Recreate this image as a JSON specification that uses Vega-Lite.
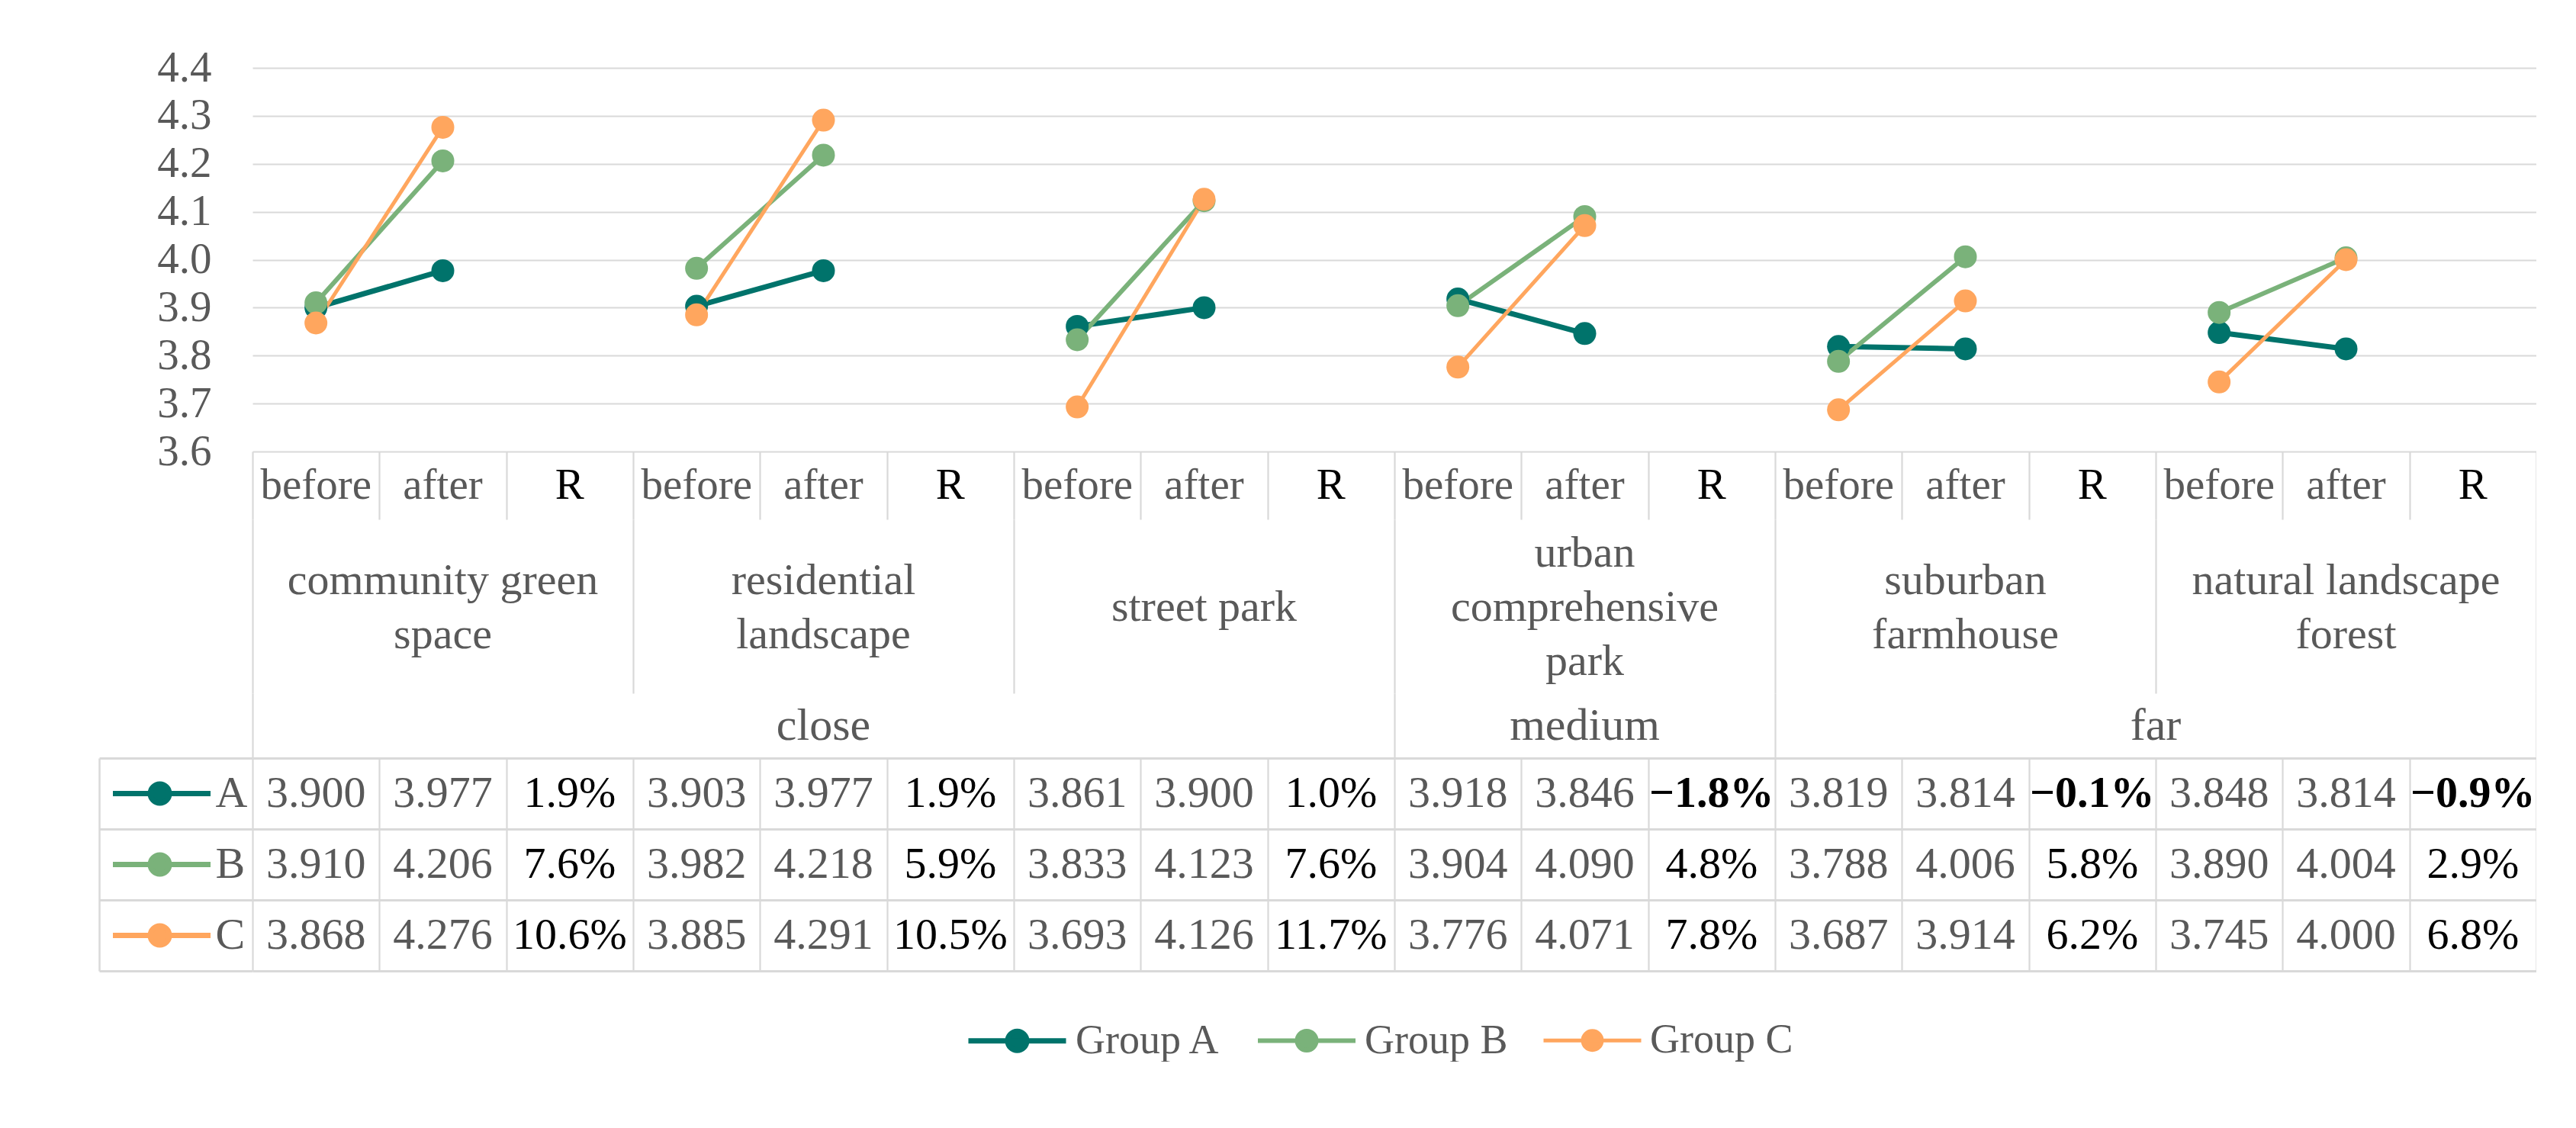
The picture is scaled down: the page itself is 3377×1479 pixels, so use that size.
{
  "$schema": "https://vega.github.io/schema/vega-lite/v6.json",
  "padding": {"left": 130, "top": 60, "right": 0, "bottom": 0},
  "background": "white",
  "config": {"view": {"stroke": null}, "font": "Liberation Serif"},
  "data": {"values": [
    {"g":"A","dist":"close","cat":"community green\nspace","stage":"before","v":3.900},
    {"g":"A","dist":"close","cat":"community green\nspace","stage":"after","v":3.977},
    {"g":"A","dist":"close","cat":"community green\nspace","stage":"R","v":0.019},
    {"g":"A","dist":"close","cat":"residential\nlandscape","stage":"before","v":3.903},
    {"g":"A","dist":"close","cat":"residential\nlandscape","stage":"after","v":3.977},
    {"g":"A","dist":"close","cat":"residential\nlandscape","stage":"R","v":0.019},
    {"g":"A","dist":"close","cat":"street park","stage":"before","v":3.861},
    {"g":"A","dist":"close","cat":"street park","stage":"after","v":3.900},
    {"g":"A","dist":"close","cat":"street park","stage":"R","v":0.010},
    {"g":"A","dist":"medium","cat":"urban\ncomprehensive\npark","stage":"before","v":3.918},
    {"g":"A","dist":"medium","cat":"urban\ncomprehensive\npark","stage":"after","v":3.846},
    {"g":"A","dist":"medium","cat":"urban\ncomprehensive\npark","stage":"R","v":-0.018},
    {"g":"A","dist":"far","cat":"suburban\nfarmhouse","stage":"before","v":3.819},
    {"g":"A","dist":"far","cat":"suburban\nfarmhouse","stage":"after","v":3.814},
    {"g":"A","dist":"far","cat":"suburban\nfarmhouse","stage":"R","v":-0.001},
    {"g":"A","dist":"far","cat":"natural landscape\nforest","stage":"before","v":3.848},
    {"g":"A","dist":"far","cat":"natural landscape\nforest","stage":"after","v":3.814},
    {"g":"A","dist":"far","cat":"natural landscape\nforest","stage":"R","v":-0.009},
    {"g":"B","dist":"close","cat":"community green\nspace","stage":"before","v":3.910},
    {"g":"B","dist":"close","cat":"community green\nspace","stage":"after","v":4.206},
    {"g":"B","dist":"close","cat":"community green\nspace","stage":"R","v":0.076},
    {"g":"B","dist":"close","cat":"residential\nlandscape","stage":"before","v":3.982},
    {"g":"B","dist":"close","cat":"residential\nlandscape","stage":"after","v":4.218},
    {"g":"B","dist":"close","cat":"residential\nlandscape","stage":"R","v":0.059},
    {"g":"B","dist":"close","cat":"street park","stage":"before","v":3.833},
    {"g":"B","dist":"close","cat":"street park","stage":"after","v":4.123},
    {"g":"B","dist":"close","cat":"street park","stage":"R","v":0.076},
    {"g":"B","dist":"medium","cat":"urban\ncomprehensive\npark","stage":"before","v":3.904},
    {"g":"B","dist":"medium","cat":"urban\ncomprehensive\npark","stage":"after","v":4.090},
    {"g":"B","dist":"medium","cat":"urban\ncomprehensive\npark","stage":"R","v":0.048},
    {"g":"B","dist":"far","cat":"suburban\nfarmhouse","stage":"before","v":3.788},
    {"g":"B","dist":"far","cat":"suburban\nfarmhouse","stage":"after","v":4.006},
    {"g":"B","dist":"far","cat":"suburban\nfarmhouse","stage":"R","v":0.058},
    {"g":"B","dist":"far","cat":"natural landscape\nforest","stage":"before","v":3.890},
    {"g":"B","dist":"far","cat":"natural landscape\nforest","stage":"after","v":4.004},
    {"g":"B","dist":"far","cat":"natural landscape\nforest","stage":"R","v":0.029},
    {"g":"C","dist":"close","cat":"community green\nspace","stage":"before","v":3.868},
    {"g":"C","dist":"close","cat":"community green\nspace","stage":"after","v":4.276},
    {"g":"C","dist":"close","cat":"community green\nspace","stage":"R","v":0.106},
    {"g":"C","dist":"close","cat":"residential\nlandscape","stage":"before","v":3.885},
    {"g":"C","dist":"close","cat":"residential\nlandscape","stage":"after","v":4.291},
    {"g":"C","dist":"close","cat":"residential\nlandscape","stage":"R","v":0.105},
    {"g":"C","dist":"close","cat":"street park","stage":"before","v":3.693},
    {"g":"C","dist":"close","cat":"street park","stage":"after","v":4.126},
    {"g":"C","dist":"close","cat":"street park","stage":"R","v":0.117},
    {"g":"C","dist":"medium","cat":"urban\ncomprehensive\npark","stage":"before","v":3.776},
    {"g":"C","dist":"medium","cat":"urban\ncomprehensive\npark","stage":"after","v":4.071},
    {"g":"C","dist":"medium","cat":"urban\ncomprehensive\npark","stage":"R","v":0.078},
    {"g":"C","dist":"far","cat":"suburban\nfarmhouse","stage":"before","v":3.687},
    {"g":"C","dist":"far","cat":"suburban\nfarmhouse","stage":"after","v":3.914},
    {"g":"C","dist":"far","cat":"suburban\nfarmhouse","stage":"R","v":0.062},
    {"g":"C","dist":"far","cat":"natural landscape\nforest","stage":"before","v":3.745},
    {"g":"C","dist":"far","cat":"natural landscape\nforest","stage":"after","v":4.000},
    {"g":"C","dist":"far","cat":"natural landscape\nforest","stage":"R","v":0.068}
  ]},
  "transform": [{"window": [{"op": "row_number", "as": "col"}], "groupby": ["g"]}],
  "columns": 2,
  "spacing": 0,
  "bounds": "flush",
  "concat": [
    {"width": 201, "height": 503, "mark": {"type": "text", "text": ""}},
    {
      "width": 2994, "height": 503,
      "transform": [{"filter": "datum.stage !== 'R'"}],
      "encoding": {
        "x": {"field": "col", "type": "quantitative", "scale": {"domain": [0.5, 18.5], "nice": false, "zero": false}, "axis": null},
        "y": {"field": "v", "type": "quantitative", "scale": {"domain": [3.6, 4.4], "nice": false, "zero": false},
          "axis": {"values": [3.6,3.7,3.8,3.9,4.0,4.1,4.2,4.3,4.4], "format": ".1f", "grid": true, "gridColor": "#d9d9d9", "gridWidth": 2.2, "domain": false, "ticks": false, "tickSize": 0, "labelFontSize": 57, "labelColor": "#595959", "labelPadding": 54, "title": null, "labelFont": "Liberation Serif"}},
        "color": {"field": "g", "type": "nominal", "scale": {"domain": ["A","B","C"], "range": ["#00736b","#7ab27a","#ffa65e"]},
          "legend": {"orient": "none", "legendX": 1136, "legendY": 1208, "direction": "horizontal", "title": null,
            "labelExpr": "'Group ' + datum.label", "labelLimit": 0,
            "symbolType": "M-1,0L1,0M0.195,0A0.195,0.195,0,1,1,-0.195,0A0.195,0.195,0,1,1,0.195,0Z",
            "symbolSize": 16384, "symbolStrokeWidth": 7, "labelFontSize": 54, "labelColor": "#595959", "labelFont": "Liberation Serif",
            "labelOffset": 9, "columnPadding": 36,
            "encode": {"symbols": {"update": {"fill": {"scale": "color", "field": "value"}, "stroke": {"scale": "color", "field": "value"}, "opacity": {"value": 1}, "strokeWidth": {"value": 7}}}}}}
      },
      "layer": [
        {"mark": {"type": "line"}, "encoding": {"detail": {"field": "cat"}, "strokeWidth": {"field": "g", "type": "nominal", "scale": {"domain": ["A","B","C"], "range": [7, 5, 5]}, "legend": null}}},
        {"mark": {"type": "point", "filled": true, "size": 900, "opacity": 1}}
      ]
    },
    {"width": 201, "height": 89, "mark": {"type": "text", "text": ""}},
    {
      "width": 2994, "height": 89,
      "transform": [{"filter": "datum.g === 'A'"}],
      "mark": {"type": "text", "fontSize": 57, "baseline": "middle"},
      "encoding": {
        "x": {"field": "col", "type": "quantitative", "scale": {"domain": [0.5, 18.5], "nice": false, "zero": false},
          "axis": {"values": [0.5,1.5,2.5,3.5,4.5,5.5,6.5,7.5,8.5,9.5,10.5,11.5,12.5,13.5,14.5,15.5,16.5,17.5,18.5], "grid": true, "gridColor": "#d9d9d9", "gridWidth": 2.2, "labels": false, "ticks": false, "domain": false, "title": null}},
        "text": {"field": "stage", "type": "nominal"},
        "color": {"condition": {"test": "datum.stage === 'R'", "value": "#000000"}, "value": "#595959"}
      }
    },
    {"width": 201, "height": 228, "mark": {"type": "text", "text": ""}},
    {
      "width": 2994, "height": 228,
      "encoding": {
        "x": {"aggregate": "mean", "field": "col", "type": "quantitative", "scale": {"domain": [0.5, 18.5], "nice": false, "zero": false},
          "axis": {"values": [0.5,3.5,6.5,9.5,12.5,15.5,18.5], "grid": true, "gridColor": "#d9d9d9", "gridWidth": 2.2, "labels": false, "ticks": false, "domain": false, "title": null}},
        "text": {"field": "cat", "type": "nominal"}
      },
      "layer": [
        {"transform": [{"filter": "split(datum.cat, '\\n').length === 1"}],
          "mark": {"type": "text", "fontSize": 58, "lineBreak": "\n", "lineHeight": 71, "color": "#595959", "baseline": "middle", "dy": 2}},
        {"transform": [{"filter": "split(datum.cat, '\\n').length === 2"}],
          "mark": {"type": "text", "fontSize": 58, "lineBreak": "\n", "lineHeight": 71, "color": "#595959", "baseline": "middle", "dy": -33.5}},
        {"transform": [{"filter": "split(datum.cat, '\\n').length === 3"}],
          "mark": {"type": "text", "fontSize": 58, "lineBreak": "\n", "lineHeight": 71, "color": "#595959", "baseline": "middle", "dy": -69}}
      ]
    },
    {"width": 201, "height": 85, "mark": {"type": "text", "text": ""}},
    {
      "width": 2994, "height": 85,
      "mark": {"type": "text", "fontSize": 60, "color": "#595959", "baseline": "middle"},
      "encoding": {
        "x": {"aggregate": "mean", "field": "col", "type": "quantitative", "scale": {"domain": [0.5, 18.5], "nice": false, "zero": false},
          "axis": {"values": [0.5,9.5,12.5,18.5], "grid": true, "gridColor": "#d9d9d9", "gridWidth": 2.2, "labels": false, "ticks": false, "domain": false, "title": null}},
        "text": {"field": "dist", "type": "nominal"}
      }
    },
    {
      "width": 201, "height": 279,
      "transform": [{"filter": "datum.col === 1"}],
      "encoding": {
        "y": {"field": "g", "type": "nominal", "scale": {"domain": ["A","B","C"], "paddingInner": 0, "paddingOuter": 0},
          "axis": {"grid": true, "tickBand": "extent", "gridColor": "#d9d9d9", "gridWidth": 3, "domain": true, "domainColor": "#d9d9d9", "domainWidth": 2.5, "labels": false, "ticks": false, "title": null}}
      },
      "layer": [
        {"mark": {"type": "point", "shape": "M-1.289,0L0.711,0M-0.133,0A0.195,0.195,0,1,1,-0.523,0A0.195,0.195,0,1,1,-0.133,0Z", "size": 16384, "filled": true, "strokeWidth": 7, "opacity": 1},
          "encoding": {"color": {"field": "g", "type": "nominal"},
            "stroke": {"field": "g", "type": "nominal", "scale": {"domain": ["A","B","C"], "range": ["#00736b","#7ab27a","#ffa65e"]}, "legend": null}}},
        {"mark": {"type": "text", "align": "left", "dx": 52, "fontSize": 58, "color": "#595959", "baseline": "middle"},
          "encoding": {"text": {"field": "g", "type": "nominal"}}}
      ]
    },
    {
      "width": 2994, "height": 279,
      "encoding": {
        "x": {"field": "col", "type": "quantitative", "scale": {"domain": [0.5, 18.5], "nice": false, "zero": false},
          "axis": {"values": [0.5,1.5,2.5,3.5,4.5,5.5,6.5,7.5,8.5,9.5,10.5,11.5,12.5,13.5,14.5,15.5,16.5,17.5,18.5], "grid": true, "gridColor": "#d9d9d9", "gridWidth": 2.2, "labels": false, "ticks": false, "domain": false, "title": null}},
        "y": {"field": "g", "type": "nominal", "scale": {"domain": ["A","B","C"], "paddingInner": 0, "paddingOuter": 0},
          "axis": {"grid": true, "tickBand": "extent", "gridColor": "#d9d9d9", "gridWidth": 3, "domain": false, "labels": false, "ticks": false, "title": null}}
      },
      "layer": [
        {"transform": [{"filter": "datum.stage !== 'R'"}], "mark": {"type": "text", "fontSize": 58, "color": "#595959", "baseline": "middle"},
          "encoding": {"text": {"field": "v", "type": "quantitative", "format": ".3f"}}},
        {"transform": [{"filter": "datum.stage === 'R' && datum.v >= 0"}], "mark": {"type": "text", "fontSize": 58, "color": "#000000", "baseline": "middle"},
          "encoding": {"text": {"field": "v", "type": "quantitative", "format": ".1%"}}},
        {"transform": [{"filter": "datum.stage === 'R' && datum.v < 0"}], "mark": {"type": "text", "fontSize": 58, "color": "#000000", "fontWeight": "bold", "baseline": "middle"},
          "encoding": {"text": {"field": "v", "type": "quantitative", "format": ".1%"}}}
      ]
    }
  ]
}
